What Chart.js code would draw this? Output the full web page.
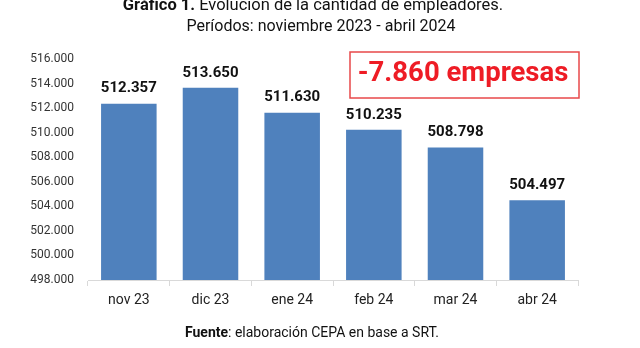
<!DOCTYPE html>
<html lang="es">
<head>
<meta charset="UTF-8" />
<title>Evolución de la cantidad de empleadores</title>
<script src="https://cdn.jsdelivr.net/npm/chart.js"></script>
<style>
  html, body { margin: 0; padding: 0; background: #fff; }
  #wrap { width: 640px; height: 348px; position: relative; }
</style>
</head>
<body>
<div id="wrap"><canvas id="chart" width="640" height="348"></canvas></div>
<script>
const months = ['nov 23', 'dic 23', 'ene 24', 'feb 24', 'mar 24', 'abr 24'];
const employers = [512357, 513650, 511630, 510235, 508798, 504497];
const yMin = 498000;
const yMax = 516000;
const yStep = 2000;

const fmt = v => v.toLocaleString('de-DE');

// titles, data labels, highlight box and footer
const extras = {
  id: 'extras',
  afterDatasetsDraw(chart) {
    const ctx = chart.ctx;
    const meta = chart.getDatasetMeta(0);
    ctx.save();
    ctx.textAlign = 'center';
    ctx.textBaseline = 'middle';
    ctx.fillStyle = '#111';
    ctx.font = 'bold 15px Roboto';
    meta.data.forEach((bar, i) => {
      ctx.fillText(fmt(employers[i]), bar.x, bar.y - 15);
    });

    // title
    const t1 = 'Gráfico 1.';
    const t2 = ' Evolución de la cantidad de empleadores.';
    ctx.font = 'bold 16.5px Roboto';
    const w1 = ctx.measureText(t1).width;
    ctx.font = '16.5px Roboto';
    const w2 = ctx.measureText(t2).width;
    let x0 = 313 - (w1 + w2) / 2;
    ctx.textAlign = 'left';
    ctx.fillStyle = '#111';
    ctx.font = 'bold 16.5px Roboto';
    ctx.fillText(t1, x0, 6);
    ctx.font = '16.5px Roboto';
    ctx.fillText(t2, x0 + w1, 6);
    ctx.textAlign = 'center';
    ctx.font = '16px Roboto';
    ctx.fillText('Períodos: noviembre 2023 - abril 2024', 321, 27);

    // footer
    const f1 = 'Fuente';
    const f2 = ': elaboración CEPA en base a SRT.';
    ctx.font = 'bold 14px Roboto';
    const fw1 = ctx.measureText(f1).width;
    ctx.font = '14px Roboto';
    const fw2 = ctx.measureText(f2).width;
    x0 = 312 - (fw1 + fw2) / 2;
    ctx.textAlign = 'left';
    ctx.font = 'bold 14px Roboto';
    ctx.fillText(f1, x0, 333);
    ctx.font = '14px Roboto';
    ctx.fillText(f2, x0 + fw1, 333);

    // highlight box
    ctx.strokeStyle = '#e8484a';
    ctx.lineWidth = 1.5;
    ctx.strokeRect(350, 52, 229, 46);
    ctx.fillStyle = '#ee1c25';
    ctx.font = 'bold 27.5px Roboto';
    ctx.textAlign = 'center';
    ctx.fillText('-7.860 empresas', 463, 74);
    ctx.restore();
  }
};

new Chart(document.getElementById('chart'), {
  type: 'bar',
  data: {
    labels: months,
    datasets: [{
      data: employers,
      backgroundColor: '#4f81bd',
      categoryPercentage: 0.68,
      barPercentage: 1
    }]
  },
  options: {
    responsive: false,
    animation: false,
    layout: { padding: { top: 59, right: 62, left: 0, bottom: 0 } },
    plugins: { legend: { display: false }, tooltip: { enabled: false } },
    scales: {
      x: {
        grid: { drawOnChartArea: false, offset: true, tickLength: 6, color: '#d9d9d9' },
        border: { color: '#d9d9d9' },
        ticks: { color: '#222', font: { family: 'Roboto', size: 14 }, padding: 6 },
        afterFit(scale) { scale.height = 68; }
      },
      y: {
        min: yMin,
        max: yMax,
        grid: { display: false, drawTicks: false },
        border: { display: false },
        ticks: {
          stepSize: yStep,
          color: '#333',
          padding: 14,
          font: { family: 'Roboto', size: 12 },
          callback: v => (v / 1000).toFixed(3)
        },
        afterFit(scale) { scale.width = 88; }
      }
    }
  },
  plugins: [extras]
});
</script>
</body>
</html>
